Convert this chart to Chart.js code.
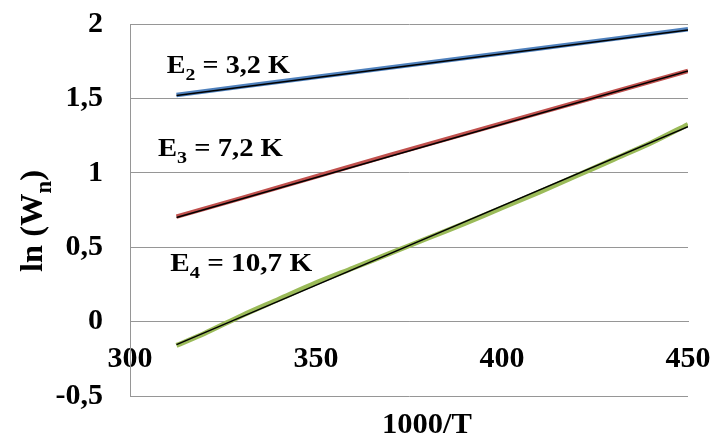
<!DOCTYPE html>
<html>
<head>
<meta charset="utf-8">
<script src="https://cdn.jsdelivr.net/npm/chart.js@4.4.0/dist/chart.umd.min.js"></script>
<style>
  body { margin: 0; background: #fff; }
  #wrap { width: 713px; height: 435px; }
</style>
</head>
<body>
<div id="wrap"><canvas id="zgchart" width="713" height="435"></canvas></div>
<script>

// measured curves, x = 1000/T
var xE2 = [312.5, 330, 350, 370, 390, 410, 430, 450];
var yE2 = [1.523, 1.58, 1.644, 1.708, 1.772, 1.836, 1.9, 1.965];
var xE3 = [312.5, 330, 350, 370, 390, 410, 430, 450];
var yE3 = [0.705, 0.83, 0.975, 1.12, 1.262, 1.403, 1.543, 1.684];
var xE4 = [312.5, 320, 330, 340, 350, 360, 370, 380, 390, 400, 410, 420, 430, 440, 450];
var yE4 = [-0.16, -0.08, 0.04, 0.15, 0.26, 0.36, 0.46, 0.56, 0.66, 0.765, 0.87, 0.98, 1.09, 1.2, 1.325];

// linear fits (black)
var fitX = [312.5, 450];
var fitE2 = [1.52, 1.96];
var fitE3 = [0.70, 1.684];
var fitE4 = [-0.155, 1.31];

var energies = ["3,2", "7,2", "10,7"];
var xTicks = [300, 350, 400, 450];
var yTicks = [-0.5, 0, 0.5, 1, 1.5, 2];

var zgfont = '"Liberation Serif", "Times New Roman", serif';

function points(xs, ys) {
  return xs.map(function(x, i) { return {x: x, y: ys[i]}; });
}

// draw text with optional subscript parts, squeezed/stretched to a width
function richtext(ctx, parts, x, y, size, width) {
  var full = 0;
  parts.forEach(function(p) {
    ctx.font = "bold " + (p.sub ? size * 0.7 : size) + "px " + zgfont;
    full += ctx.measureText(p.t).width;
  });
  var k = width ? width / full : 1;
  ctx.save();
  ctx.translate(x, y);
  ctx.scale(k, 1);
  ctx.fillStyle = "#000";
  ctx.textAlign = "left";
  ctx.textBaseline = "alphabetic";
  var cx = 0;
  parts.forEach(function(p) {
    ctx.font = "bold " + (p.sub ? size * 0.7 : size) + "px " + zgfont;
    ctx.fillText(p.t, cx, p.sub ? size * 0.28 : 0);
    cx += ctx.measureText(p.t).width;
  });
  ctx.restore();
}

var zglabels = {
  id: "zglabels",
  afterDraw: function(chart) {
    var ctx = chart.ctx;
    var sx = chart.scales.x, sy = chart.scales.y;

    //energy labels
    var spots = [[309.9, 1.673, 2, 123], [307.5, 1.116, 3, 125], [310.8, 0.343, 4, 142]];
    spots.forEach(function(s, i) {
      richtext(ctx, [{t: "E"}, {t: String(s[2]), sub: true}, {t: " = " + energies[i] + " K"}],
        sx.getPixelForValue(s[0]), sy.getPixelForValue(s[1]), 25, s[3]);
    });

    //axis titles
    richtext(ctx, [{t: "1000/T"}], 382, 433, 30, 90);

    ctx.save();
    ctx.translate(42, 221);
    ctx.rotate(-Math.PI / 2);
    richtext(ctx, [{t: "ln (W"}, {t: "n", sub: true}, {t: ")"}], -51, 0, 32, 102);
    ctx.restore();
  }
};

function nopad(scale) {
  scale.paddingTop = 0;
  scale.paddingBottom = 0;
  scale.paddingLeft = 0;
  scale.paddingRight = 0;
}

var tickfont = {family: zgfont, size: 30, weight: "bold"};

new Chart(document.getElementById("zgchart"), {
  type: "scatter",
  data: {
    datasets: [
      {data: points(fitX, fitE2), borderColor: "#000", borderWidth: 1.5, order: 0},
      {data: points(fitX, fitE3), borderColor: "#000", borderWidth: 1.5, order: 0},
      {data: points(fitX, fitE4), borderColor: "#000", borderWidth: 1.5, order: 0},
      {data: points(xE2, yE2), borderColor: "#4F81BD", borderWidth: 4.5, order: 1},
      {data: points(xE3, yE3), borderColor: "#C0504D", borderWidth: 4.5, order: 1},
      {data: points(xE4, yE4), borderColor: "#9BBB59", borderWidth: 5, tension: 0.3, order: 1}
    ]
  },
  options: {
    responsive: false,
    animation: false,
    showLine: true,
    elements: {point: {radius: 0}},
    layout: {padding: {left: 0, top: 24, right: 25, bottom: 39}},
    plugins: {legend: {display: false}, tooltip: {enabled: false}},
    scales: {
      x: {
        type: "linear",
        position: {y: 0},
        min: xTicks[0], max: xTicks[xTicks.length - 1],
        afterBuildTicks: function(scale) { scale.ticks = xTicks.map(function(v) { return {value: v}; }); },
        grid: {display: false, drawTicks: false},
        border: {display: true, color: "#969696", width: 1},
        ticks: {font: tickfont, color: "#000", padding: 20, maxRotation: 0},
        afterFit: function(scale) { scale.height = 0; nopad(scale); }
      },
      y: {
        min: yTicks[0], max: yTicks[yTicks.length - 1],
        afterBuildTicks: function(scale) { scale.ticks = yTicks.map(function(v) { return {value: v}; }); },
        grid: {color: "#969696", lineWidth: 1, drawTicks: false},
        border: {display: true, color: "#969696", width: 1},
        ticks: {font: tickfont, color: "#000", padding: 27,
          callback: function(v) { return String(v).replace(".", ","); }},
        afterFit: function(scale) { scale.width = 130; nopad(scale); }
      }
    }
  },
  plugins: [zglabels]
});
</script>
</body>
</html>
